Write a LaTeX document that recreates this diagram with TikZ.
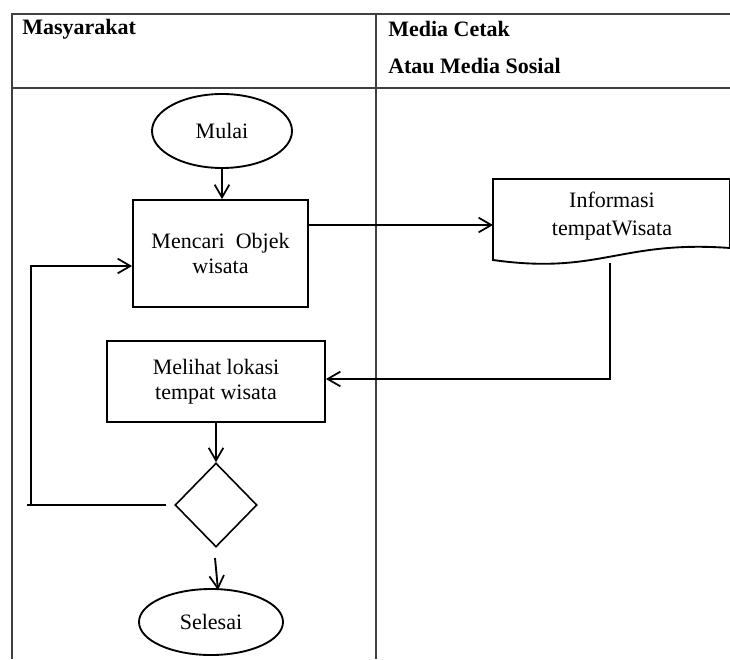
\documentclass[tikz,border=0pt]{standalone}
\usepackage{fontspec}
\setmainfont{Liberation Serif}
\usetikzlibrary{shapes.geometric,arrows.meta}
\begin{document}
\begin{tikzpicture}[x=0.75pt,y=-0.75pt,
  tbl/.style={line width=0.8pt,draw=black!75},
  shp/.style={draw,line width=1.4pt,font=\fontsize{16.5}{19}\selectfont,align=center,inner sep=0pt},
  arr/.style={line width=1.4pt,-{Straight Barb[length=9.5pt,width=11pt,line width=1.3pt]}},
  ln/.style={line width=1.4pt},
  hdr/.style={anchor=west,font=\fontsize{16.5}{19}\selectfont\bfseries,inner sep=0pt}]
\useasboundingbox (0,0) rectangle (730,659);
% table
\draw[tbl] (12,659) -- (12,14) -- (730,14);
\draw[tbl] (12,88) -- (730,88);
\draw[tbl] (376,14) -- (376,659);
\node[hdr] (h1) at (22,29) {Masyarakat};
\node[hdr] (h2) at (388,29) {Media Cetak};
\node[hdr] (h3) at (388,66) {Atau Media Sosial};
% shapes
\node[shp,ellipse,minimum width=105pt,minimum height=55.5pt] (mulai) at (222,131) {Mulai};
\node[shp,rectangle,minimum width=131.25pt,minimum height=80.25pt] (mencari) at (220.5,253.5) {Mencari~~Objek\\wisata};
\node[shp,rectangle,minimum width=163.5pt,minimum height=60.75pt] (melihat) at (216,381.5) {Melihat lokasi\\tempat wisata};
\node[draw,line width=1.2pt,diamond,inner sep=0pt,minimum width=61.5pt,minimum height=63pt] (dec) at (216,505) {};
\node[shp,ellipse,minimum width=108pt,minimum height=49.5pt] (selesai) at (211,622) {Selesai};
% document shape
\draw[ln] (493,179) -- (730,179) -- (730,248) .. controls (620,240) and (600,275) .. (493,260) -- cycle;
\node[font=\fontsize{16.5}{20.5}\selectfont,align=center,inner sep=0pt] (doc) at (612,216) {Informasi\\tempatWisata};
\coordinate (docL) at (493,225);
\coordinate (docB) at (610,263);
\coordinate (docC) at (610,379);
\coordinate (loopA) at (166,505);
\coordinate (loopB) at (27,505);
\coordinate (loopC) at (31,505);
\coordinate (loopD) at (31,266);
\coordinate (decOut) at (215,558);
\coordinate (selIn) at (218,590);
% connectors
\draw[arr] (mulai.south) -- (mulai.south |- mencari.north);
\draw[arr] (mencari.east |- docL) -- (docL);
\draw[arr] (docB) -- (docC) -- (melihat.east |- docC);
\draw[arr] (melihat.south) -- (melihat.south |- dec.north);
\draw[ln] (loopA) -- (loopB);
\draw[arr] (loopC) -- (loopD) -- (mencari.west |- loopD);
\draw[arr] (decOut) -- (selIn);
\end{tikzpicture}
\end{document}
